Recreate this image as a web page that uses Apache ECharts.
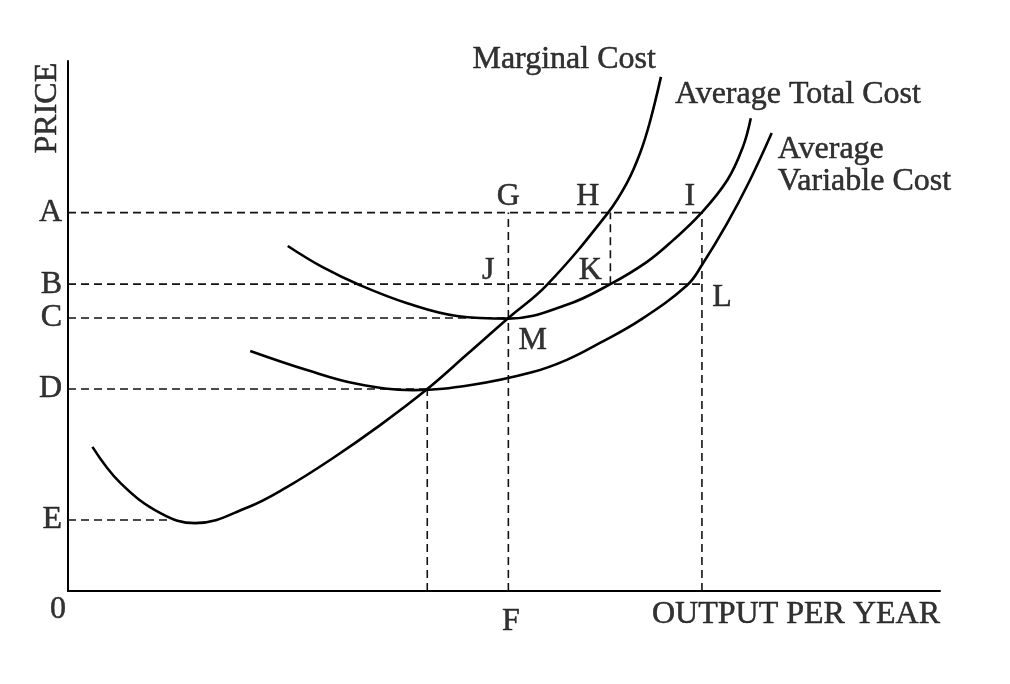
<!DOCTYPE html>
<html lang="en">
<head>
    <meta charset="UTF-8">
    <title>Cost Curves</title>
    <script src="https://cdn.jsdelivr.net/npm/echarts@6/dist/echarts.min.js"></script>
    <style>
        html, body { margin: 0; padding: 0; background: #fff; }
        #chart { width: 1010px; height: 684px; }
    </style>
</head>
<body>
<div id="chart"></div>
<script>
    // curves: [output, price], axes run 0-100
    const marginalCost = [
        [2.8, 27.2], [6.0, 20.4], [10.6, 14.7], [14.6, 12.8],
        [20.5, 15.7], [25.1, 19.6], [30.4, 25.1], [35.8, 31.3], [41.2, 38.1],
        [45.8, 44.7], [50.5, 51.5], [54.9, 57.7], [61.9, 71.3],
        [64.1, 77.0], [65.6, 82.6], [66.7, 88.3], [68.0, 97.0]
    ];
    const averageTotalCost = [
        [25.2, 65.1], [29.2, 61.1], [33.5, 57.7], [38.9, 54.3], [44.6, 51.9],
        [50.5, 51.4], [57.2, 54.0], [62.2, 57.9], [66.4, 62.1],
        [69.4, 66.2], [72.5, 71.1], [75.6, 77.5], [77.4, 83.8], [78.3, 89.2]
    ];
    const averageVariableCost = [
        [20.9, 45.3], [27.4, 41.7], [33.1, 39.1], [39.6, 37.9],
        [46.4, 38.9], [53.3, 41.3], [57.2, 43.6], [61.0, 46.8],
        [65.6, 51.1], [71.0, 57.7], [72.7, 61.5], [75.6, 69.4], [78.2, 77.5],
        [80.7, 86.4]
    ];

    // price levels on the vertical axis
    const levelLabels = ['A', 'B', 'C', 'D', 'E'];
    const levelPrices = [71.4, 57.9, 51.5, 38.1, 13.4];
    const levelEnds = [72.7, 72.7, 50.5, 41.2, 11.5];

    // vertical guide lines
    const dropOutputs = [41.2, 50.5, 62.2, 72.7];
    const dropFrom = [0, 0, 57.9, 0];
    const dropTo = [38.1, 71.4, 71.4, 71.4];

    // point letters
    const pointLabels = ['G', 'H', 'I', 'J', 'K', 'L', 'M', 'F'];
    const pointX = [50.5, 59.6, 71.3, 48.2, 59.9, 75.0, 53.3, 50.8];
    const pointY = [74.5, 74.5, 74.5, 60.4, 60.4, 55.3, 47.2, -5.8];

    // curve names
    const curveNames = ['Average Total Cost', 'Average', 'Variable Cost'];
    const curveNameX = [69.6, 81.4, 81.4];
    const curveNameY = [93.6, 83.2, 77.2];

    const FONT = 'Liberation Serif, Times New Roman, serif';
    const textStyle = {
        fontFamily: FONT, fontSize: 32, color: '#000',
        textBorderColor: '#000', textBorderWidth: 0.5
    };

    function curve(name, data) {
        return {
            name: name,
            type: 'line',
            data: data,
            smooth: 0.4,
            symbol: 'none',
            z: 3,
            lineStyle: {color: '#000', width: 2.6}
        };
    }

    function guide(a, b) {
        return {
            type: 'line',
            data: [a, b],
            symbol: 'none',
            z: 2,
            silent: true,
            lineStyle: {color: '#111', width: 1.6, type: [8, 5]}
        };
    }

    function texts(names, xs, ys, position, distance, extra) {
        return {
            type: 'scatter',
            symbolSize: 0,
            clip: false,
            silent: true,
            z: 4,
            data: names.map(function (n, i) {
                return {name: n, value: [xs[i], ys[i]]};
            }),
            label: Object.assign({
                show: true,
                position: position,
                distance: distance,
                formatter: '{b}'
            }, textStyle, extra || {})
        };
    }

    let series = [];
    levelLabels.forEach(function (l, i) {
        series.push(guide([0, levelPrices[i]], [levelEnds[i], levelPrices[i]]));
    });
    dropOutputs.forEach(function (x, i) {
        series.push(guide([x, dropFrom[i]], [x, dropTo[i]]));
    });
    series.push(curve('Marginal Cost', marginalCost));
    series.push(curve('Average Total Cost', averageTotalCost));
    series.push(curve('Average Variable Cost', averageVariableCost));

    series.push(texts(levelLabels, levelLabels.map(function () { return 0; }), levelPrices, 'left', 6));
    series.push(texts(pointLabels, pointX, pointY, 'inside', 0));
    series.push(texts(['Marginal Cost'], [56.9], [100.2], 'inside', 0));
    series.push(texts(curveNames, curveNameX, curveNameY, 'right', 0));
    series.push(texts(['0'], [0], [-3.6], 'left', 2));
    series.push(texts(['OUTPUT PER YEAR'], [100], [-4.5], 'left', 0));
    series.push(texts(['PRICE'], [-2.3], [91.1], 'inside', 0, {rotate: 90}));

    let myChart = echarts.init(document.getElementById('chart'), null, {renderer: 'canvas'});
    myChart.setOption({
        animation: false,
        backgroundColor: '#fff',
        grid: {left: 68, right: 70, top: 61, bottom: 93},
        xAxis: {
            type: 'value',
            min: 0,
            max: 100,
            axisLine: {show: true, lineStyle: {color: '#000', width: 2}},
            axisTick: {show: false},
            axisLabel: {show: false},
            splitLine: {show: false}
        },
        yAxis: {
            type: 'value',
            min: 0,
            max: 100,
            axisLine: {show: true, lineStyle: {color: '#000', width: 2}},
            axisTick: {show: false},
            axisLabel: {show: false},
            splitLine: {show: false}
        },
        series: series
    });
</script>
</body>
</html>
